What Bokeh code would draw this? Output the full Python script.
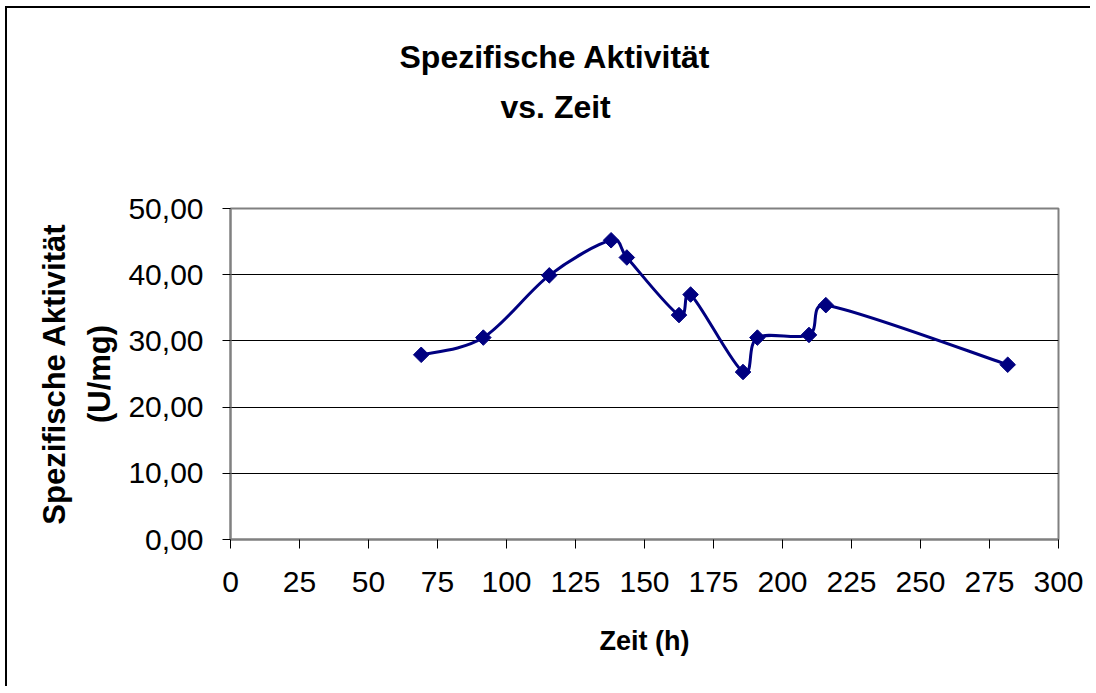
import numpy as np
from bokeh.plotting import figure
from bokeh.models import Title, SingleIntervalTicker, CustomJSTickFormatter, Range1d
from bokeh.embed import file_html
from bokeh.resources import INLINE

# Data
zeit_h = [69.1, 91.6, 115.5, 137.9, 143.6, 162.5, 166.7, 185.7, 190.9, 209.6, 215.7, 281.6]
spez_aktivitaet = [27.9, 30.5, 39.9, 45.2, 42.6, 33.9, 37.0, 25.3, 30.5, 30.9, 35.4, 26.4]

title_line1 = "Spezifische Aktivität"
title_line2 = "vs. Zeit"
x_label = "Zeit (h)"
y_label = "Spezifische Aktivität\n(U/mg)"

NAVY = "#000080"
FONT = "Liberation Sans"

W, H = 1085, 680
BL, BR, BT, BB = 223, 34, 200, 149
XMAX, YMAX = 300, 50

p = figure(width=W, height=H, output_backend="svg", toolbar_location=None,
           x_range=Range1d(0, XMAX), y_range=Range1d(0, YMAX),
           min_border_left=BL, min_border_right=BR, min_border_top=BT, min_border_bottom=BB,
           title=None)
p.styles = {"margin-left": "5px", "margin-top": "6px",
            "border-top": "2px solid black", "border-left": "2px solid black"}

# Title block (stacked upward from the frame: spacer, line 2, line 1)
spacer = Title(text=" ", text_font_size="10px", standoff=64, text_color="white")
t2 = Title(text=title_line2, align="left", offset=270, vertical_align="middle", standoff=12,
           text_font=FONT, text_font_size="32px", text_font_style="bold", text_color="black")
t1 = Title(text=title_line1, align="left", offset=169, vertical_align="middle", standoff=12,
           text_font=FONT, text_font_size="32px", text_font_style="bold", text_color="black")
p.add_layout(spacer, "above")
p.add_layout(t2, "above")
p.add_layout(t1, "above")

p.background_fill_color = "white"
p.border_fill_color = "white"
p.outline_line_color = "#808080"
p.outline_line_width = 2

# grid
p.xgrid.grid_line_color = None
p.ygrid.grid_line_color = "black"
p.ygrid.grid_line_width = 1

# axes
p.xaxis.ticker = SingleIntervalTicker(interval=25)
p.yaxis.ticker = SingleIntervalTicker(interval=10)
p.yaxis.formatter = CustomJSTickFormatter(code="return tick.toFixed(2).replace('.', ',');")
for ax in (p.xaxis[0], p.yaxis[0]):
    ax.axis_line_color = "#808080"
    ax.axis_line_width = 2
    ax.major_tick_line_color = "black"
    ax.major_tick_line_width = 1
    ax.major_tick_in = 0
    ax.minor_tick_line_color = None
    ax.major_label_text_font = FONT
    ax.major_label_text_font_size = "30px"
    ax.major_label_text_color = "black"
    ax.axis_label_text_font = FONT
    ax.axis_label_text_font_style = "bold"
    ax.axis_label_text_color = "black"

p.xaxis.major_tick_out = 9
p.yaxis.major_tick_out = 8
p.xaxis.major_label_standoff = 23
p.yaxis.major_label_standoff = 19
p.xaxis.axis_label = x_label
p.yaxis.axis_label = y_label
p.xaxis.axis_label_text_font_size = "27px"
p.yaxis.axis_label_text_font_size = "31px"
p.yaxis.axis_label_text_line_height = 1.3
p.xaxis.axis_label_standoff = 31
p.yaxis.axis_label_standoff = 8

# Excel-style smoothed line: Bezier segments, control arms 1/6 of neighbour chord,
# limited to half the segment length (computed in screen space)
sx = (W - BL - BR) / XMAX
sy = (H - BT - BB) / YMAX
P = np.column_stack([np.array(zeit_h) * sx, np.array(spez_aktivitaet) * sy])
n = len(P)
segs = {k: [] for k in ("x0", "y0", "x1", "y1", "cx0", "cy0", "cx1", "cy1")}
for i in range(n - 1):
    p0 = P[max(i - 1, 0)]
    p1 = P[i]
    p2 = P[i + 1]
    p3 = P[min(i + 2, n - 1)]
    d12 = np.hypot(*(p2 - p1))
    d02 = np.hypot(*(p2 - p0))
    d13 = np.hypot(*(p3 - p1))
    f0 = 1 / 6.0
    f1 = 1 / 6.0
    if d02 / 6.0 > d12 / 2.0 and d02 > 0:
        f0 = d12 / 2.0 / d02
    if d13 / 6.0 > d12 / 2.0 and d13 > 0:
        f1 = d12 / 2.0 / d13
    c1 = p1 + (p2 - p0) * f0
    c2 = p2 - (p3 - p1) * f1
    segs["x0"].append(p1[0] / sx); segs["y0"].append(p1[1] / sy)
    segs["x1"].append(p2[0] / sx); segs["y1"].append(p2[1] / sy)
    segs["cx0"].append(c1[0] / sx); segs["cy0"].append(c1[1] / sy)
    segs["cx1"].append(c2[0] / sx); segs["cy1"].append(c2[1] / sy)

p.bezier(line_color=NAVY, line_width=3, **segs)

p.scatter(zeit_h, spez_aktivitaet, marker="square", size=11, angle=np.pi / 4,
          fill_color=NAVY, line_color=NAVY)

open("out.html", "w").write(file_html(p, INLINE))
